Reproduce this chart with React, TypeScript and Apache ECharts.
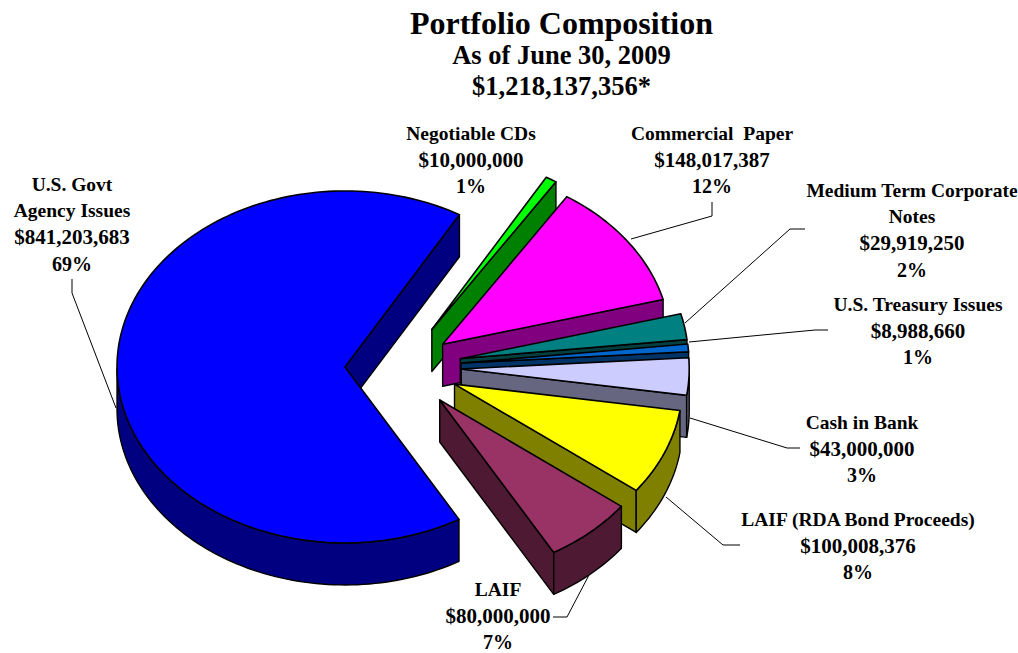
import React, { useEffect, useRef } from "react";
import * as echarts from "echarts";

const titleLines = ["Portfolio Composition", "As of June 30, 2009", "$1,218,137,356*"];
const categories = [
  "U.S. Govt\nAgency Issues",
  "Negotiable CDs",
  "Commercial  Paper",
  "Medium Term Corporate\nNotes",
  "U.S. Treasury Issues",
  "Cash in Bank",
  "LAIF (RDA Bond Proceeds)",
  "LAIF",
];
const amounts = [841203683, 10000000, 148017387, 29919250, 8988660, 43000000, 100008376, 80000000];
const percents = ["69%", "1%", "12%", "2%", "1%", "3%", "8%", "7%"];
const topColors = ["#0000FF", "#00FF00", "#FF00FF", "#008080", "#0066CC", "#CCCCFF", "#FFFF00", "#993366"];
const sideColors = ["#000080", "#008000", "#800080", "#004040", "#003366", "#666680", "#808000", "#4D1933"];

// layout
const CX = 402;
const CY = 367;
const RX = 228;
const RY = 176;
const DEPTH = 42;
const explode = [0.25, 0.25, 0.22, 0.26, 0.26, 0.26, 0.25, 0.25];
const START_ANGLE = -60; // clockwise from here
const labelAnchors: [number, number][] = [
  [72, 224], [471, 160], [712, 160], [912, 230], [918, 331], [862, 449], [858, 546], [498, 616],
];
const leaders: number[][][] = [
  [[72, 279], [72, 293], [116, 408]],
  [[712, 202], [712, 216], [631, 239]],
  [[805, 229], [790, 229], [685, 323]],
  [[828, 330], [815, 330], [689, 342]],
  [[800, 448], [787, 448], [690, 418]],
  [[740, 545], [723, 545], [666, 497]],
  [[553, 617], [567, 617], [589, 575]],
];
const titleLayout = [
  { y: 23, size: 32 },
  { y: 55, size: 26.5 },
  { y: 86, size: 26.5 },
];
const NAME_SIZE = 19.5;
const AMOUNT_SIZE = 21;
const PERCENT_SIZE = 20;
const LABEL_LINE = 26.4;
const FONT = '"Liberation Serif", "Times New Roman", serif';

const total = amounts.reduce((a, b) => a + b, 0);

function sliceRows() {
  let angle = START_ANGLE;
  return amounts.map((v, i) => {
    const from = angle;
    const to = angle - (v / total) * 360;
    angle = to;
    return [i, from, to];
  });
}

const rad = (d: number) => (d * Math.PI) / 180;

function renderSlice(_params: any, api: any) {
  const idx = api.value(0);
  const from = api.value(1);
  const to = api.value(2);
  const mid = rad((from + to) / 2);
  const ax = CX + explode[idx] * RX * Math.cos(mid);
  const ay = CY - explode[idx] * RY * Math.sin(mid);
  const pt = (deg: number): [number, number] => [ax + RX * Math.cos(rad(deg)), ay - RY * Math.sin(rad(deg))];
  const steps = Math.max(2, Math.ceil((from - to) / 1.5));
  const arc: number[] = [];
  for (let s = 0; s <= steps; s++) arc.push(from + ((to - from) * s) / steps);

  const side = { fill: sideColors[idx], stroke: "#000", lineWidth: 1.4, lineJoin: "round" };
  const top = { fill: topColors[idx], stroke: "#000", lineWidth: 1.6, lineJoin: "round" };
  const children: any[] = [];
  const wallFor = (deg: number) => {
    const p = pt(deg);
    children.push({
      type: "polygon",
      shape: { points: [[ax, ay], p, [p[0], p[1] + DEPTH], [ax, ay + DEPTH]] },
      style: side,
    });
  };
  // radial faces that look towards the viewer
  if (Math.cos(rad(from)) < 0) wallFor(from);
  if (Math.cos(rad(to)) > 0) wallFor(to);
  // outer face: the part of the rim in the front half
  const front = arc.filter((d) => Math.sin(rad(d)) <= 0.001);
  if (front.length > 1) {
    const upper = front.map(pt);
    const lower = front.map(pt).reverse().map((p) => [p[0], p[1] + DEPTH]);
    children.push({ type: "polygon", shape: { points: [...upper, ...lower] }, style: side });
  }
  children.push({
    type: "polygon",
    shape: { points: [[ax, ay], ...arc.map(pt)] },
    style: top,
  });
  return { type: "group", children };
}

function labelLines(i: number) {
  const names = categories[i].split("\n").map((text) => ({ text, size: NAME_SIZE }));
  return [
    ...names,
    { text: `$${amounts[i].toLocaleString("en-US")}`, size: AMOUNT_SIZE },
    { text: percents[i], size: PERCENT_SIZE },
  ];
}

export default function App() {
  const ref = useRef<HTMLDivElement>(null);
  useEffect(() => {
    const chart = echarts.init(ref.current!, null, { renderer: "svg" });
    const graphics: any[] = [];
    titleLines.forEach((t, i) => {
      graphics.push({
        type: "text",
        x: 561.5,
        y: titleLayout[i].y,
        style: {
          text: t,
          fill: "#000",
          font: `bold ${titleLayout[i].size}px ${FONT}`,
          textAlign: "center",
          textVerticalAlign: "middle",
        },
      });
    });
    categories.forEach((_c, i) => {
      const lines = labelLines(i);
      lines.forEach((line, k) => {
        graphics.push({
          type: "text",
          x: labelAnchors[i][0],
          y: labelAnchors[i][1] + (k - (lines.length - 1) / 2) * LABEL_LINE,
          style: {
            text: line.text,
            fill: "#000",
            font: `bold ${line.size}px ${FONT}`,
            textAlign: "center",
            textVerticalAlign: "middle",
          },
        });
      });
    });
    leaders.forEach((pts) => {
      graphics.push({
        type: "polyline",
        shape: { points: pts },
        style: { stroke: "#000", lineWidth: 1, fill: "none" },
      });
    });
    chart.setOption({
      animation: false,
      backgroundColor: "#fff",
      graphic: graphics,
      series: [
        {
          type: "custom",
          coordinateSystem: "none",
          renderItem: renderSlice,
          data: sliceRows(),
          silent: true,
        },
      ],
    });
    return () => chart.dispose();
  }, []);
  return <div ref={ref} style={{ position: "absolute", left: 0, top: 0, width: 1018, height: 653 }} />;
}
